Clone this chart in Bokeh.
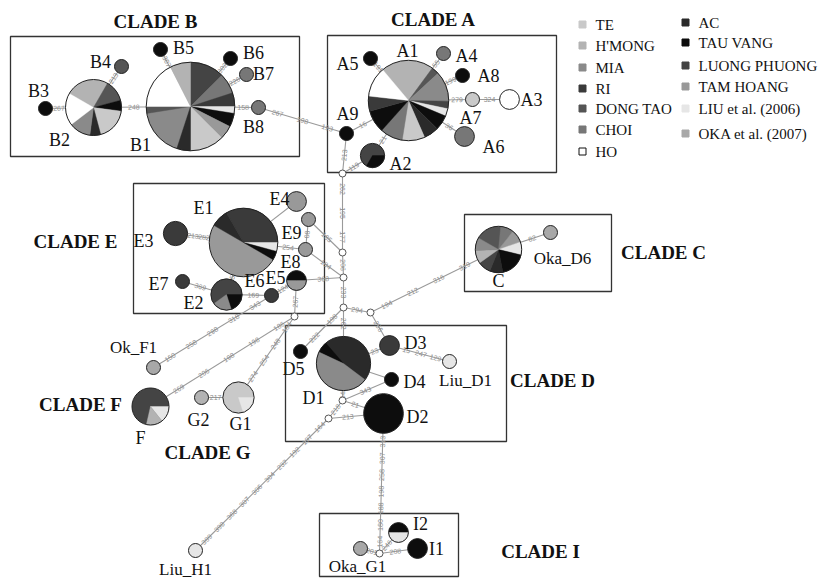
import math
from bokeh.plotting import figure
from bokeh.models import Range1d
from bokeh.core.properties import value
from bokeh.embed import file_html
from bokeh.resources import INLINE

# ---------------- data ----------------
pop_keys = ["TE", "H'MONG", "MIA", "RI", "DONG TAO", "CHOI", "HO",
            "AC", "TAU VANG", "LUONG PHUONG", "TAM HOANG", "LIU", "OKA"]
legend_labels = ["TE", "H'MONG", "MIA", "RI", "DONG TAO", "CHOI", "HO",
                 "AC", "TAU VANG", "LUONG PHUONG", "TAM HOANG",
                 "LIU et al. (2006)", "OKA et al. (2007)"]
pop_colors = ["#c9c9c9", "#b3b3b3", "#8a8a8a", "#3a3a3a", "#555555", "#777777", "#ffffff",
              "#2a2a2a", "#0d0d0d", "#444444", "#999999", "#e6e6e6", "#a8a8a8"]

# haplotype composition: (population, number of individuals), clockwise
hap_B1 = [("LUONG PHUONG", 5), ("CHOI", 3), ("RI", 2), ("LIU", 1), ("TAU VANG", 2), ("TAM HOANG", 2),
          ("TE", 5), ("AC", 2), ("MIA", 7), ("DONG TAO", 1), ("HO", 7), ("H'MONG", 3)]
hap_B2 = [("H'MONG", 4), ("DONG TAO", 2), ("TAU VANG", 1), ("TE", 3), ("AC", 1), ("MIA", 2), ("HO", 3)]
hap_A1 = [("H'MONG", 7), ("DONG TAO", 1), ("MIA", 4), ("LUONG PHUONG", 1), ("LIU", 1), ("TAU VANG", 2),
          ("AC", 2), ("TE", 3), ("CHOI", 3), ("TAU VANG", 3), ("RI", 2), ("HO", 4)]
hap_A2 = [("TAU VANG", 1), ("LUONG PHUONG", 2)]
hap_E1 = [("RI", 8), ("LIU", 1), ("TAU VANG", 1), ("TAM HOANG", 12), ("AC", 2)]
hap_E2 = [("TAU VANG", 1), ("MIA", 1), ("LUONG PHUONG", 3)]
hap_E5 = [("TAU VANG", 1), ("TAM HOANG", 1)]
hap_D1 = [("TAU VANG", 1), ("AC", 7), ("MIA", 7)]
hap_C = [("DONG TAO", 2), ("CHOI", 1), ("TAM HOANG", 1), ("LIU", 1), ("TAU VANG", 2), ("AC", 1),
         ("LUONG PHUONG", 1), ("H'MONG", 1), ("MIA", 1)]
hap_F = [("LIU", 1), ("H'MONG", 1), ("LUONG PHUONG", 5)]
hap_G1 = [("LIU", 1), ("TE", 4)]
hap_I2 = [("TAU VANG", 1), ("LIU", 1)]

haplotypes = {
    "B1": hap_B1, "B2": hap_B2, "B3": [("TAU VANG", 1)], "B4": [("DONG TAO", 1)],
    "B5": [("TAU VANG", 1)], "B6": [("TAU VANG", 1)], "B7": [("CHOI", 1)], "B8": [("CHOI", 1)],
    "A1": hap_A1, "A2": hap_A2, "A3": [("HO", 2)], "A4": [("CHOI", 1)], "A5": [("TAU VANG", 1)],
    "A6": [("CHOI", 2)], "A7": [("TE", 1)], "A8": [("TAU VANG", 1)], "A9": [("TAU VANG", 1)],
    "E1": hap_E1, "E2": hap_E2, "E3": [("RI", 3)], "E4": [("TAM HOANG", 2)], "E5": hap_E5,
    "E6": [("RI", 1)], "E7": [("RI", 1)], "E8": [("TAM HOANG", 1)], "E9": [("TAM HOANG", 1)],
    "Ok_F1": [("OKA", 1)], "F": hap_F, "G1": hap_G1, "G2": [("H'MONG", 1)],
    "D1": hap_D1, "D2": [("TAU VANG", 8)], "D3": [("RI", 2)], "D4": [("TAU VANG", 1)],
    "D5": [("TAU VANG", 1)], "Liu_D1": [("LIU", 1)],
    "C": hap_C, "Oka_D6": [("OKA", 1)],
    "Liu_H1": [("LIU", 1)], "Oka_G1": [("OKA", 1)], "I1": [("TAU VANG", 2)], "I2": hap_I2,
}
median_vectors = ["n1", "n2", "n3", "n4", "n5", "n6", "n7", "n8", "n9"]

# mutation links: (from, to, mutation positions)
links = [
    ("B1", "B2", ["248"]), ("B2", "B3", ["267"]), ("B2", "B4", ["213"]), ("B1", "B5", ["307"]),
    ("B1", "B6", ["302"]), ("B1", "B7", ["226"]), ("B1", "B8", ["158"]),
    ("B8", "A9", ["267", "198", "193"]),
    ("A9", "A1", ["16"]), ("A1", "A5", ["191"]), ("A1", "A4", ["55"]), ("A1", "A8", ["199"]),
    ("A1", "A7", ["279"]), ("A7", "A3", ["324"]), ("A1", "A6", ["36"]), ("A1", "A2", ["21"]),
    ("A9", "n1", ["213"]), ("A2", "n1", ["119"]),
    ("n1", "n2", ["262", "195", "177"]), ("n2", "n3", ["206"]),
    ("E9", "n2", ["185"]), ("E8", "n3", ["184"]), ("E5", "n3", ["368"]),
    ("n3", "n4", ["233"]), ("n4", "n5", ["294"]),
    ("E1", "E3", ["282", "213"]), ("E1", "E4", []), ("E1", "E8", ["254"]), ("E9", "E8", ["08"]),
    ("E1", "E2", ["151"]), ("E2", "E7", ["369"]), ("E2", "E6", ["169"]), ("E6", "E5", ["124"]),
    ("E5", "n6", ["267"]),
    ("E6", "Ok_F1", ["343", "318", "298", "258", "150"]),
    ("n6", "F", ["186", "198", "198", "206", "269"]),
    ("n6", "G1", ["164", "248", "254", "274"]), ("G2", "G1", ["217"]),
    ("n4", "D1", ["262"]), ("n4", "D5", ["198", "222"]), ("n5", "D3", ["256"]),
    ("n5", "C", ["194", "212", "316", "319"]), ("C", "Oka_D6", ["82"]),
    ("D1", "D3", ["23"]), ("D3", "Liu_D1", ["15", "247", "129"]), ("D1", "D4", []),
    ("D1", "n7", ["343"]), ("n7", "D4", ["343"]), ("n7", "D2", ["21"]), ("n7", "n8", ["218"]),
    ("n8", "D2", ["213"]),
    ("n8", "Liu_H1", ["164", "197", "192", "232", "304", "306", "307", "368", "398", "399"]),
    ("D2", "n9", ["313", "307", "258", "198", "188", "180", "164"]),
    ("n9", "Oka_G1", ["201"]), ("n9", "I2", ["246"]), ("n9", "I1", ["208"]),
]

clades = ["CLADE A", "CLADE B", "CLADE C", "CLADE D", "CLADE E", "CLADE F", "CLADE G", "CLADE I"]

# ---------------- layout (image pixel coordinates) ----------------
POS = {
    "B1": (190, 106), "B2": (93, 107), "B3": (45, 108), "B4": (121, 66), "B5": (160, 49),
    "B6": (230, 58), "B7": (246, 74), "B8": (258, 107),
    "A1": (408, 100), "A2": (372, 155), "A3": (509, 99), "A4": (443, 53), "A5": (370, 58),
    "A6": (464, 136), "A7": (472, 99), "A8": (462, 75), "A9": (346, 133),
    "n1": (342, 173), "n2": (342, 252), "n3": (343, 277), "n4": (343, 307), "n5": (370, 312),
    "n6": (294, 316), "n7": (342, 400), "n8": (328, 418), "n9": (379, 553),
    "E1": (243, 242), "E2": (226, 294), "E3": (175, 233), "E4": (296, 201), "E5": (296, 280),
    "E6": (271, 295), "E7": (182, 281), "E8": (305, 249), "E9": (308, 219),
    "Ok_F1": (153, 367), "F": (150, 406), "G1": (238, 397), "G2": (201, 397),
    "D1": (343, 363), "D2": (383, 413), "D3": (389, 345), "D4": (391, 379), "D5": (300, 351),
    "Liu_D1": (449, 361), "C": (498, 249), "Oka_D6": (550, 232),
    "Liu_H1": (195, 550), "Oka_G1": (360, 548), "I1": (417, 548), "I2": (398, 532),
}
START = {"B2": -60, "A1": -40, "A2": 90, "E1": -30, "E2": 90, "E5": -90, "D1": -65,
         "C": -60, "F": 90, "G1": 90, "I2": -90}
LABEL_POS = {
    "B1": (140, 144), "B2": (59, 139), "B3": (38, 90), "B4": (100, 61), "B5": (183, 47),
    "B6": (253, 52), "B7": (263, 73), "B8": (253, 126),
    "A1": (407, 50), "A2": (400, 163), "A3": (531, 99), "A4": (466, 55), "A5": (347, 63),
    "A6": (493, 146), "A7": (470, 117), "A8": (488, 75), "A9": (347, 113),
    "E1": (203, 207), "E2": (193, 302), "E3": (143, 240), "E4": (279, 198), "E5": (275, 277),
    "E6": (254, 280), "E7": (158, 283), "E8": (290, 261), "E9": (291, 232),
    "Ok_F1": (133, 347), "F": (140, 437), "G1": (240, 423), "G2": (198, 419),
    "D1": (313, 397), "D2": (417, 416), "D3": (415, 342), "D4": (414, 381), "D5": (293, 368),
    "Liu_D1": (465, 380), "C": (498, 280), "Oka_D6": (562, 258),
    "Liu_H1": (185, 569), "Oka_G1": (357, 566), "I1": (436, 548), "I2": (420, 523),
}
SMALL_LABELS = {"Ok_F1", "Liu_D1", "Oka_D6", "Liu_H1", "Oka_G1"}
CLADE_TITLE = {"CLADE A": (433, 19), "CLADE B": (155, 21), "CLADE C": (663, 252),
               "CLADE D": (552, 380), "CLADE E": (75, 241), "CLADE F": (80, 404),
               "CLADE G": (207, 452), "CLADE I": (540, 551)}
CLADE_BOX = {"CLADE A": (327, 35, 556, 172), "CLADE B": (10, 36, 299, 156),
             "CLADE C": (464, 214, 611, 291), "CLADE D": (285, 325, 506, 441),
             "CLADE E": (133, 183, 324, 313), "CLADE I": (319, 513, 458, 576)}
LEGEND_COL = [(582, 595, [24, 45, 67, 88, 108, 129, 151]),
              (685, 698, [22, 42, 65, 86, 108, 133])]

R_UNIT = 7.0
R_MEDIAN = 3.5
IMG_W, IMG_H = 822, 579
SERIF = value("Liberation Serif")


def Y(y):
    return IMG_H - y


def radius(name):
    if name in haplotypes:
        return R_UNIT * math.sqrt(sum(c for _, c in haplotypes[name]))
    return R_MEDIAN


color_of = dict(zip(pop_keys, pop_colors))

p = figure(width=IMG_W, height=IMG_H, x_range=Range1d(0, IMG_W), y_range=Range1d(0, IMG_H),
           output_backend="svg", toolbar_location=None, x_axis_type=None, y_axis_type=None,
           min_border=0)
p.grid.visible = False
p.outline_line_color = None
p.background_fill_color = "white"

# clade boxes
bl, br, bt, bb = [], [], [], []
for c in clades:
    if c in CLADE_BOX:
        l, t, r, b = CLADE_BOX[c]
        bl.append(l); br.append(r); bt.append(Y(t)); bb.append(Y(b))
p.quad(left=bl, right=br, top=bt, bottom=bb, fill_color=None, line_color="#333333", line_width=1.3)

# links
sx0, sy0, sx1, sy1 = [], [], [], []
lx, ly, lt, la = [], [], [], []
for a, b, muts in links:
    xa, ya = POS[a]; xb, yb = POS[b]
    sx0.append(xa); sy0.append(Y(ya)); sx1.append(xb); sy1.append(Y(yb))
    dx, dy = xb - xa, Y(yb) - Y(ya)
    d = math.hypot(dx, dy)
    ux, uy = dx / d, dy / d
    ra, rb = radius(a), radius(b)
    px0, py0 = xa + ux * ra, Y(ya) + uy * ra
    seg = d - ra - rb
    ang = math.atan2(dy, dx)
    if ang > math.pi / 2:
        ang -= math.pi
    if ang < -math.pi / 2:
        ang += math.pi
    k = len(muts)
    for i, m in enumerate(muts):
        t = (i + 0.5) / k
        lx.append(px0 + ux * seg * t); ly.append(py0 + uy * seg * t)
        lt.append(m); la.append(ang)
p.segment(x0=sx0, y0=sy0, x1=sx1, y1=sy1, line_color="#9a9a9a", line_width=1.1)
p.text(x=lx, y=ly, text=lt, angle=la, text_font=value("Liberation Sans"), text_font_size="7px",
       text_color="#8c8c8c", text_align="center", text_baseline="middle")

# pies: a base disc in the majority colour, then one wedge per population share
bx, by, brr, bc = [], [], [], []
wx, wy, wr, ws, we, wc = [], [], [], [], [], []
for h, comp in haplotypes.items():
    n = sum(c for _, c in comp)
    r = radius(h)
    x, y = POS[h]
    major = max(comp, key=lambda pc: pc[1])[0]
    bx.append(x); by.append(Y(y)); brr.append(r); bc.append(color_of[major])
    if len(comp) == 1:
        continue
    theta = START.get(h, 0.0)
    for pop, c in comp:
        span = 360.0 * c / n
        if pop != major:
            wx.append(x); wy.append(Y(y)); wr.append(r)
            ws.append(math.radians(90 - theta - span)); we.append(math.radians(90 - theta))
            wc.append(color_of[pop])
        theta += span
p.circle(x=bx, y=by, radius=brr, fill_color=bc, line_color=None)
p.wedge(x=wx, y=wy, radius=wr, start_angle=ws, end_angle=we, fill_color=wc,
        line_color=wc, line_width=0.4)
p.circle(x=bx, y=by, radius=brr, fill_color=None, line_color="#222222", line_width=1)

# median vectors
p.circle(x=[POS[m][0] for m in median_vectors], y=[Y(POS[m][1]) for m in median_vectors],
         radius=R_MEDIAN, fill_color="white", line_color="#555555", line_width=1)

# haplotype labels
big = [h for h in haplotypes if h not in SMALL_LABELS]
small = [h for h in haplotypes if h in SMALL_LABELS]
p.text(x=[LABEL_POS[h][0] for h in big], y=[Y(LABEL_POS[h][1]) for h in big], text=big,
       text_font=SERIF, text_font_size="18px", text_color="#111111",
       text_align="center", text_baseline="middle")
p.text(x=[LABEL_POS[h][0] for h in small], y=[Y(LABEL_POS[h][1]) for h in small], text=small,
       text_font=SERIF, text_font_size="17px", text_color="#111111",
       text_align="center", text_baseline="middle")

# clade titles
p.text(x=[CLADE_TITLE[c][0] for c in clades], y=[Y(CLADE_TITLE[c][1]) for c in clades], text=clades,
       text_font=SERIF, text_font_size="19px", text_font_style="bold", text_color="#111111",
       text_align="center", text_baseline="middle")

# legend
lgx, lgy, lgc, lgl, ltx, lty, ltt = [], [], [], [], [], [], []
idx = 0
for sqx, txx, rows in LEGEND_COL:
    for ry in rows:
        lgx.append(sqx); lgy.append(Y(ry)); lgc.append(pop_colors[idx])
        lgl.append("#111111" if pop_keys[idx] == "HO" else pop_colors[idx])
        ltx.append(txx); lty.append(Y(ry)); ltt.append(legend_labels[idx])
        idx += 1
p.rect(x=lgx, y=lgy, width=7, height=7, fill_color=lgc, line_color=lgl, line_width=1)
p.text(x=ltx, y=lty, text=ltt, text_font=SERIF, text_font_size="15px", text_color="#111111",
       text_align="left", text_baseline="middle")

open("out.html", "w").write(file_html(p, INLINE))
